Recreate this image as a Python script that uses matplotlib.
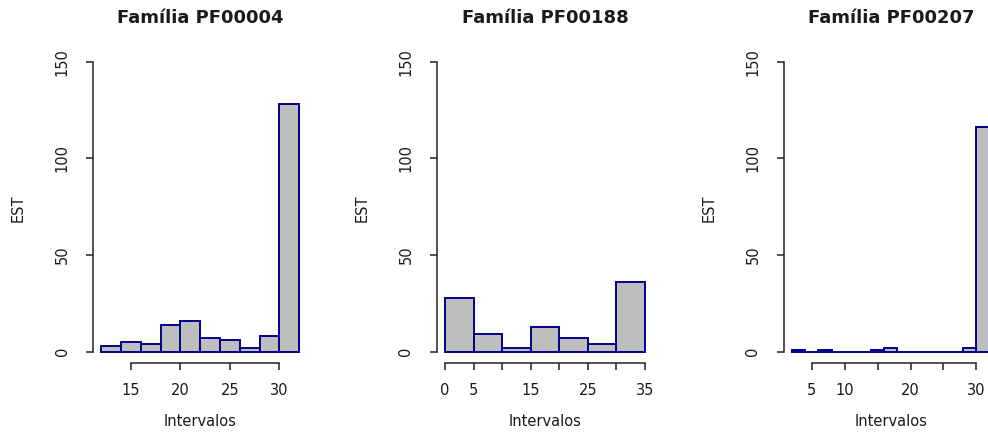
import numpy as np
import matplotlib
matplotlib.use('Agg')
import matplotlib.pyplot as plt

titles = ['Família PF00004', 'Família PF00188', 'Família PF00207']

# histogram bins and counts
edges1 = np.arange(12, 33, 2)
counts1 = [3, 5, 4, 14, 16, 7, 6, 2, 8, 128]
edges2 = np.arange(0, 36, 5)
counts2 = [28, 9, 2, 13, 7, 4, 36]
edges3 = np.arange(2, 33, 2)
counts3 = [1, 0, 1, 0, 0, 0, 1, 2, 0, 0, 0, 0, 0, 2, 116]

xticks1 = [15, 20, 25, 30]
xlabels1 = ['15', '20', '25', '30']
xticks2 = [0, 5, 10, 15, 20, 25, 30, 35]
xlabels2 = ['0', '5', '', '15', '', '25', '', '35']
xticks3 = [5, 10, 15, 20, 25, 30]
xlabels3 = ['5', '10', '', '20', '', '30']
yticks = [0, 50, 100, 150]

W, H = 988, 432
fig = plt.figure(figsize=(W / 100, H / 100), dpi=100)

# pixel boxes of the three plot regions (the last one runs off the edge)
boxes = [(93.4, 307.0), (437.0, 653.0), (784.1, 997.4)]
top, bottom = 50.1, 363.3

panels = [(edges1, counts1, xticks1, xlabels1),
          (edges2, counts2, xticks2, xlabels2),
          (edges3, counts3, xticks3, xlabels3)]

txt = '#1a1a1a'
for (l, r), (edges, counts, xt, xl), title in zip(boxes, panels, titles):
    ax = fig.add_axes([l / W, (H - bottom) / H, (r - l) / W, (bottom - top) / H])
    ax.bar(edges[:-1], counts, width=np.diff(edges), align='edge',
           color='#bebebe', edgecolor='#00008b', linewidth=1.4)
    span = edges[-1] - edges[0]
    ax.set_xlim(edges[0] - 0.04 * span, edges[-1] + 0.04 * span)
    ax.set_ylim(-6, 156)
    ax.spines['top'].set_visible(False)
    ax.spines['right'].set_visible(False)
    ax.spines['left'].set_bounds(0, 150)
    ax.spines['bottom'].set_bounds(xt[0], xt[-1])
    for s in ['left', 'bottom']:
        ax.spines[s].set_linewidth(1.1)
        ax.spines[s].set_color('#222222')
    ax.set_xticks(xt, xl)
    ax.set_yticks(yticks)
    ax.set_yticklabels([str(v) for v in yticks], rotation=90, va='center')
    ax.tick_params(length=5, width=1.1, color='#222222', labelsize=10.5,
                   labelcolor=txt)
    ax.tick_params(axis='x', pad=9)
    ax.tick_params(axis='y', pad=12)
    ax.patch.set_visible(False)

    cx = (l + r) / 2
    fig.text(cx / W, 1 - 18 / H, title, ha='center', va='center',
             fontsize=13, fontweight='bold', color=txt)
    fig.text(cx / W, 1 - 421 / H, 'Intervalos', ha='center', va='center',
             fontsize=10.5, color=txt)
    fig.text((l - 75) / W, 1 - 208 / H, 'EST', ha='center', va='center',
             rotation=90, fontsize=10.5, color=txt)

fig.savefig('out.png', dpi=100)
